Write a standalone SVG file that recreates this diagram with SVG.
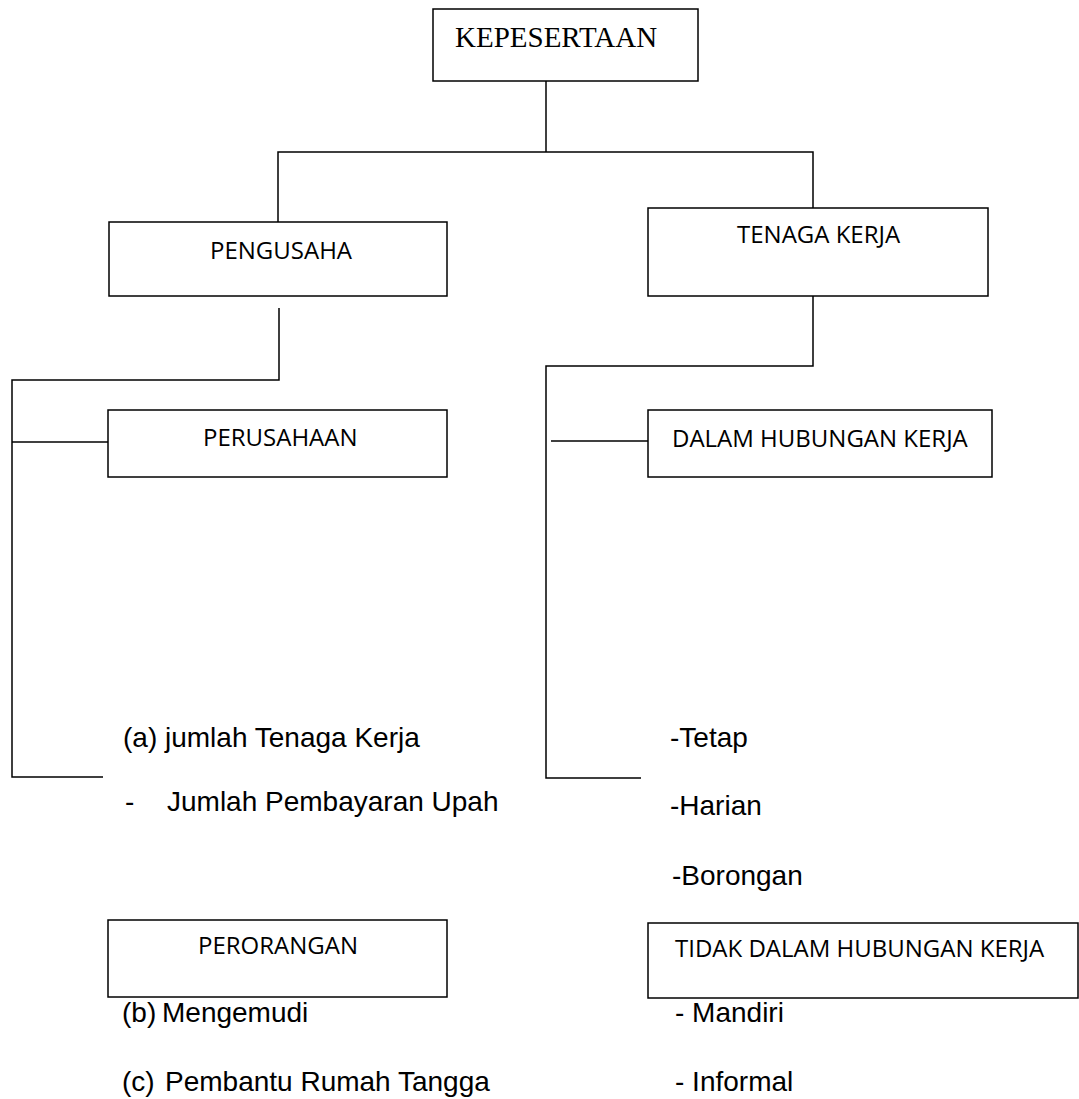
<svg xmlns="http://www.w3.org/2000/svg" width="1079" height="1099" viewBox="0 0 1079 1099">
<style>
.box{fill:#fff;stroke:#000;stroke-width:1.5}
.ln{fill:none;stroke:#000;stroke-width:1.5}
.cal{font-family:"Open Sans","Liberation Sans",sans-serif;font-size:24px;fill:#000}
.ari{font-family:"Liberation Sans",Arial,sans-serif;font-size:28px;fill:#000}
.tim{font-family:"Liberation Serif","Times New Roman",serif;font-size:29px;fill:#000}
</style>
<rect width="1079" height="1099" fill="#fff"/>
<g id="connectors">
<polyline class="ln" points="546,81 546,152"/>
<polyline class="ln" points="278,222 278,152 813,152 813,208"/>
<polyline class="ln" points="279,308 279,380 12,380 12,777 103,777"/>
<polyline class="ln" points="12,442 108,442"/>
<polyline class="ln" points="813,296 813,366 546,366 546,778 641,778"/>
<polyline class="ln" points="551,441 648,441"/>
</g>
<g id="kepesertaan">
<rect class="box" x="433" y="9" width="265" height="72"/>
<text class="tim" x="455" y="47">KEPESERTAAN</text>
</g>
<g id="pengusaha">
<rect class="box" x="109" y="222" width="338" height="74"/>
<text class="cal" x="210" y="259">PENGUSAHA</text>
</g>
<g id="tenaga-kerja">
<rect class="box" x="648" y="208" width="340" height="88"/>
<text class="cal" x="737" y="243">TENAGA KERJA</text>
</g>
<g id="perusahaan">
<rect class="box" x="108" y="410" width="339" height="67"/>
<text class="cal" x="203" y="446">PERUSAHAAN</text>
</g>
<g id="dalam-hubungan-kerja">
<rect class="box" x="648" y="410" width="344" height="67"/>
<text class="cal" x="672" y="447">DALAM HUBUNGAN KERJA</text>
</g>
<g id="perusahaan-items">
<text class="ari" x="123" y="747">(a) jumlah Tenaga Kerja</text>
<text class="ari" x="125" y="811">-</text>
<text class="ari" x="167" y="811">Jumlah Pembayaran Upah</text>
</g>
<g id="dalam-items">
<text class="ari" x="670" y="747">-Tetap</text>
<text class="ari" x="670" y="815">-Harian</text>
<text class="ari" x="672" y="885">-Borongan</text>
</g>
<g id="perorangan">
<rect class="box" x="108" y="920" width="339" height="77"/>
<text class="cal" x="198" y="954">PERORANGAN</text>
</g>
<g id="tidak-dalam-hubungan-kerja">
<rect class="box" x="648" y="923" width="430" height="75"/>
<text class="cal" x="675" y="957">TIDAK DALAM HUBUNGAN KERJA</text>
</g>
<g id="perorangan-items">
<text class="ari" x="122" y="1022">(b)</text>
<text class="ari" x="162" y="1022">Mengemudi</text>
<text class="ari" x="122" y="1091">(c)</text>
<text class="ari" x="165" y="1091">Pembantu Rumah Tangga</text>
</g>
<g id="tidak-items">
<text class="ari" x="675" y="1022">- Mandiri</text>
<text class="ari" x="675" y="1091">- Informal</text>
</g>
</svg>
